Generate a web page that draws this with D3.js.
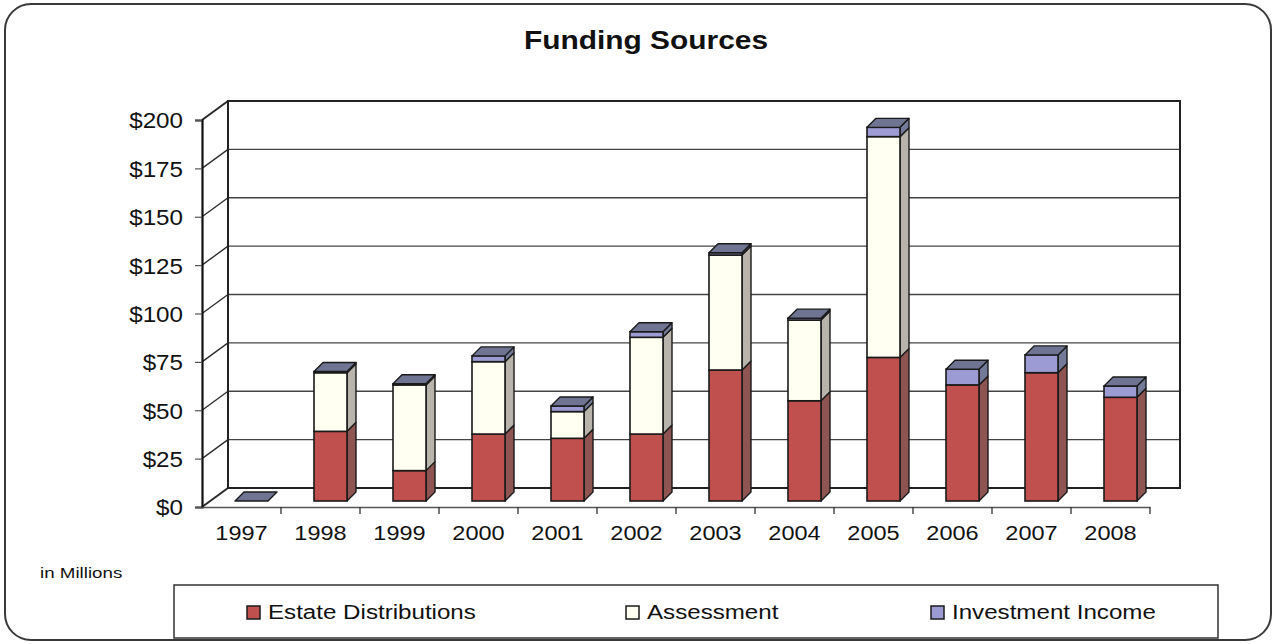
<!DOCTYPE html>
<html>
<head>
<meta charset="utf-8">
<script src="https://cdn.jsdelivr.net/npm/d3@7"></script>
<style>
  html, body { margin: 0; padding: 0; background: #ffffff; }
  svg { display: block; font-family: Arial, "Liberation Sans", sans-serif; }
</style>
</head>
<body>
<svg id="chart" width="1276" height="644"></svg>
<script>
// ---- data ----
const years = ["1997","1998","1999","2000","2001","2002","2003","2004","2005","2006","2007","2008"];
const estateDistributions = [0, 36, 15.7, 34.6, 32.4, 34.6, 67.7, 51.8, 74.2, 60, 66.3, 53.6];
const assessment          = [0, 30.3, 44.3, 37.4, 13.8, 50, 59.4, 41.7, 114.1, 0, 0, 0];
const investmentIncome    = [0, 0.6, 0.6, 3, 2.9, 2.9, 1.2, 1, 4.8, 8.1, 9.2, 5.8];
const seriesNames = ["Estate Distributions", "Assessment", "Investment Income"];
const yTicks = [0, 25, 50, 75, 100, 125, 150, 175, 200];

// ---- styles ----
const frontColors = ["#c0504d", "#fffff2", "#9c9bd3"];
const sideColors  = ["#8e5451", "#b8b4ab", "#737a98"];
const topColor    = "#6f7493";
const FONT = "Arial, 'Liberation Sans', sans-serif";

const svg = d3.select("#chart");

// outer rounded frame
svg.append("rect").attr("x", 5).attr("y", 4).attr("width", 1266).attr("height", 636)
  .attr("rx", 26).attr("ry", 26).attr("fill", "#ffffff")
  .attr("stroke", "#3a3a3a").attr("stroke-width", 2);

// stretched text helper (the source is slightly wide)
function sText(sel, x, y, sx, txt, size, anchor, weight) {
  return sel.append("text")
    .attr("transform", `translate(${x},${y}) scale(${sx},1)`)
    .attr("text-anchor", anchor || "start")
    .attr("font-size", size).attr("font-weight", weight || "normal")
    .attr("font-family", FONT).attr("fill", "#111").text(txt);
}

// title
sText(svg, 646, 49, 1.15, "Funding Sources", 26, "middle", "bold");

// ---- scales ----
const frontLeft = 202, frontRight = 1150;
const wallDx = 26, wallDy = -19;
const x = d3.scaleBand().domain(years).range([frontLeft, frontRight]);
const yFront = d3.scaleLinear().domain([0, 200]).range([507, 120]);
const yBack  = d3.scaleLinear().domain([0, 200]).range([507 + wallDy, 120 + wallDy]);
// bars sit a little behind the front edge
const barShiftX = 10, barShiftY = -6;
const yBar = d3.scaleLinear().domain([0, 200]).range([507 + barShiftY, 120 + barShiftY]);
const barW = 33, barDx = 9, barDy = -9;

const g = svg.append("g");

// back wall gridlines
g.selectAll("line.grid").data(yTicks.slice(1)).join("line")
  .attr("class", "grid")
  .attr("x1", frontLeft + wallDx).attr("x2", frontRight + wallDx + 4)
  .attr("y1", d => yBack(d)).attr("y2", d => yBack(d))
  .attr("stroke", "#444").attr("stroke-width", 1.4);

// side wall gridlines (diagonals)
g.selectAll("line.wallgrid").data(yTicks).join("line")
  .attr("x1", frontLeft).attr("y1", d => yFront(d))
  .attr("x2", frontLeft + wallDx).attr("y2", d => yBack(d))
  .attr("stroke", "#2a2a2a").attr("stroke-width", d => d === 200 || d === 0 ? 2 : 1.3);

// back wall outline
g.append("path")
  .attr("d", `M${frontLeft + wallDx},${yBack(0)} L${frontLeft + wallDx},${yBack(200)} L${frontRight + wallDx + 4},${yBack(200)} L${frontRight + wallDx + 4},${yBack(0)} L${frontLeft + wallDx},${yBack(0)}`)
  .attr("fill", "none").attr("stroke", "#222").attr("stroke-width", 2);

// front y axis
const yAxis = d3.axisLeft(yFront).tickValues(yTicks).tickFormat(d => "$" + d).tickSize(7).tickPadding(0);
const yAxisG = svg.append("g").attr("transform", `translate(${frontLeft},0)`).call(yAxis);
yAxisG.select(".domain").attr("stroke", "#111").attr("stroke-width", 2.2);
yAxisG.selectAll(".tick line").attr("stroke", "#555").attr("stroke-width", 1.2);
yAxisG.selectAll(".tick text")
  .attr("x", null).attr("dy", "0.36em")
  .attr("transform", "translate(-19,0) scale(1.1,1)")
  .attr("font-size", 22).attr("fill", "#111").attr("font-family", FONT);

// front x axis
const xAxis = d3.axisBottom(x).tickSize(0).tickPadding(18);
const xAxisG = svg.append("g").attr("transform", `translate(0,${yFront(0)})`).call(xAxis);
xAxisG.select(".domain").attr("stroke", "#555").attr("stroke-width", 1.3);
xAxisG.selectAll(".tick text")
  .attr("transform", "scale(1.12,1)")
  .attr("font-size", 21).attr("fill", "#111").attr("font-family", FONT);
// category divider ticks
xAxisG.selectAll("line.divider").data(years).join("line")
  .attr("x1", d => x(d) + x.bandwidth()).attr("x2", d => x(d) + x.bandwidth())
  .attr("y1", 0).attr("y2", 7).attr("stroke", "#333").attr("stroke-width", 1.3);

// ---- bars ----
const stacked = years.map((yr, i) => {
  const vals = [estateDistributions[i], assessment[i], investmentIncome[i]];
  let acc = 0;
  const segs = vals.map((v, k) => { const s = { k, y0: acc, y1: acc + v }; acc += v; return s; });
  return { yr, segs, total: acc };
});

const barsG = svg.append("g");
stacked.forEach(d => {
  const bx = x(d.yr) + x.bandwidth() / 2 + barShiftX - barW / 2;
  const bg = barsG.append("g");
  d.segs.filter(s => s.y1 > s.y0).forEach(s => {
    const top = yBar(s.y1), bot = yBar(s.y0);
    bg.append("path")
      .attr("d", `M${bx + barW},${bot} L${bx + barW + barDx},${bot + barDy} L${bx + barW + barDx},${top + barDy} L${bx + barW},${top} Z`)
      .attr("fill", sideColors[s.k]).attr("stroke", "#1a1a1a").attr("stroke-width", 1.4).attr("stroke-linejoin", "round");
    bg.append("rect").attr("x", bx).attr("y", top).attr("width", barW).attr("height", bot - top)
      .attr("fill", frontColors[s.k]).attr("stroke", "#1a1a1a").attr("stroke-width", 1.6);
  });
  const tt = yBar(d.total);
  bg.append("path")
    .attr("d", `M${bx},${tt} L${bx + barDx},${tt + barDy} L${bx + barW + barDx},${tt + barDy} L${bx + barW},${tt} Z`)
    .attr("fill", topColor).attr("stroke", "#1a1a1a").attr("stroke-width", 1.4).attr("stroke-linejoin", "round");
});

// "in Millions"
sText(svg, 40, 578, 1.25, "in Millions", 15);

// ---- legend ----
const legG = svg.append("g");
legG.append("rect").attr("x", 174).attr("y", 585).attr("width", 1044).attr("height", 53)
  .attr("fill", "#fff").attr("stroke", "#333").attr("stroke-width", 1.5);
const legX = [247, 626, 931];
seriesNames.forEach((name, i) => {
  legG.append("rect").attr("x", legX[i]).attr("y", 606).attr("width", 13).attr("height", 13)
    .attr("fill", frontColors[i]).attr("stroke", "#1a1a1a").attr("stroke-width", 1.5);
  sText(legG, legX[i] + 21, 619, 1.15, name, 21);
});
</script>
</body>
</html>
